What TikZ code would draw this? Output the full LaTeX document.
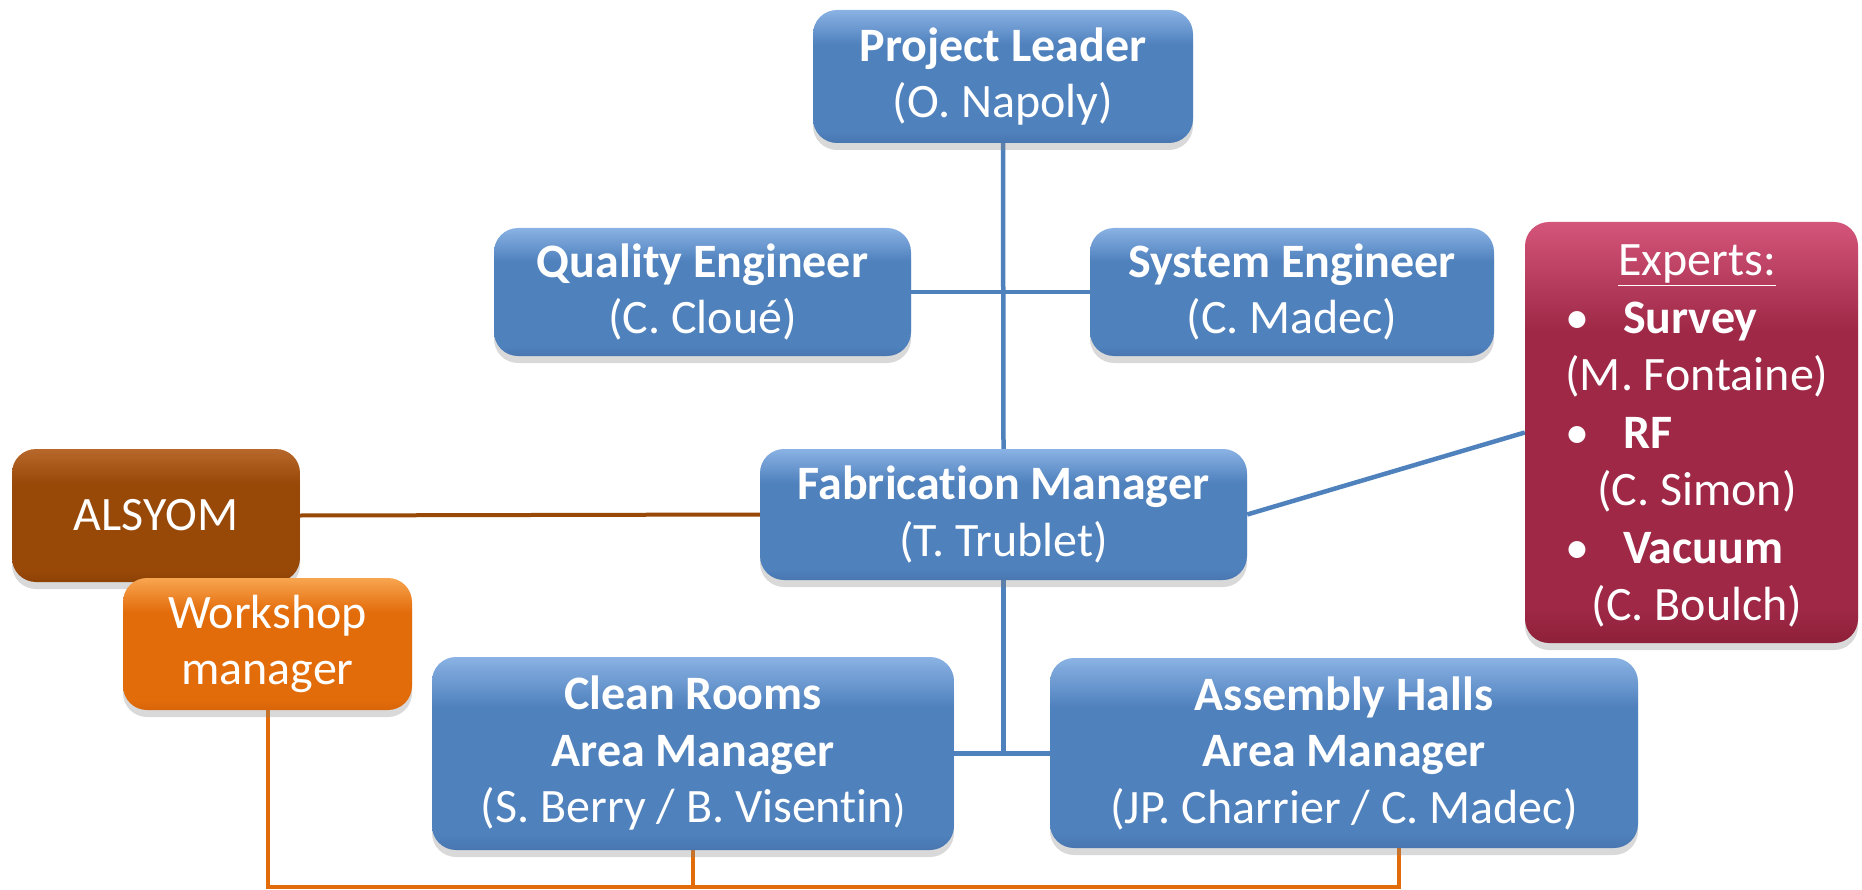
\documentclass[tikz,border=0pt]{standalone}
\usepackage{fontspec}
\setmainfont[Ligatures=NoCommon]{Carlito}
\usetikzlibrary{shadows,backgrounds,calc}

% box colours: base, light top edge, darker bottom edge
\definecolor{bBase}{HTML}{4F81BD}
\definecolor{bTop}{HTML}{8AB2E4}
\definecolor{bBot}{HTML}{4876AF}
\definecolor{aBase}{HTML}{984807}
\definecolor{aTop}{HTML}{B8682A}
\definecolor{aBot}{HTML}{8C4206}
\definecolor{wBase}{HTML}{E36C0A}
\definecolor{wTop}{HTML}{F8A550}
\definecolor{wBot}{HTML}{D8650A}
\definecolor{eBase}{HTML}{9E2846}
\definecolor{eTop}{HTML}{D4557A}
\definecolor{eBot}{HTML}{8E2039}
% connector colours
\definecolor{lBlue}{HTML}{4F81BD}
\definecolor{lBrown}{HTML}{984807}
\definecolor{lOrange}{HTML}{E36C0A}

% glossy vertical shadings (path box spans 25bp..75bp)
\pgfdeclareverticalshading{blueshade}{100bp}{color(0bp)=(bBot); color(25bp)=(bBot); color(29bp)=(bBase); color(62bp)=(bBase); color(75bp)=(bTop); color(100bp)=(bTop)}
\pgfdeclareverticalshading{brownshade}{100bp}{color(0bp)=(aBot); color(25bp)=(aBot); color(29bp)=(aBase); color(62bp)=(aBase); color(75bp)=(aTop); color(100bp)=(aTop)}
\pgfdeclareverticalshading{orangeshade}{100bp}{color(0bp)=(wBot); color(25bp)=(wBot); color(29bp)=(wBase); color(62bp)=(wBase); color(75bp)=(wTop); color(100bp)=(wTop)}
\pgfdeclareverticalshading{redshade}{100bp}{color(0bp)=(eBot); color(25bp)=(eBot); color(29bp)=(eBase); color(62bp)=(eBase); color(75bp)=(eTop); color(100bp)=(eTop)}

\tikzset{
  box/.style={rounded corners=24pt, draw=none, text=white, align=center,
    inner sep=0pt, font=\fontsize{48}{56.5}\selectfont,
    drop shadow={shadow xshift=0pt, shadow yshift=-7pt, opacity=0.3}},
  bluebox/.style={box, shading=blueshade},
  brownbox/.style={box, shading=brownshade},
  orangebox/.style={box, shading=orangeshade},
  redbox/.style={box, shading=redshade},
  plain/.style={text=white, align=center, inner sep=0pt,
    font=\fontsize{48}{57.5}\selectfont},
  blueline/.style={draw=lBlue, line width=4.5pt},
  brownline/.style={draw=lBrown, line width=4pt},
  orangeline/.style={draw=lOrange, line width=4pt},
}

\begin{document}
\begin{tikzpicture}[x=1pt,y=-1pt]
  \useasboundingbox (0,0) rectangle (1862,890);

  % management chain
  \node[bluebox, minimum width=380pt, minimum height=133pt] (pl) at (1003,76.5)
    {\textbf{Project Leader}\\(O. Napoly)};
  \node[bluebox, minimum width=417pt, minimum height=128pt] (qe) at (702.5,292)
    {\textbf{Quality Engineer}\\(C. Clou\'e)};
  \node[bluebox, minimum width=404pt, minimum height=128pt] (se) at (1292,292)
    {\textbf{System Engineer}\\(C. Madec)};
  \node[bluebox, minimum width=487pt, minimum height=131pt] (fm) at (1003.5,514.5)
    {\textbf{Fabrication Manager}\\(T. Trublet)};
  \node[bluebox, minimum width=522pt, minimum height=193pt] (cr) at (693,753.5)
    {\textbf{Clean Rooms}\\\textbf{Area Manager}\\(S. Berry / B. Visentin{\fontsize{40}{40}\selectfont)}};
  \node[bluebox, minimum width=588pt, minimum height=190pt] (ah) at (1344,753)
    {\textbf{Assembly Halls}\\\textbf{Area Manager}\\(JP. Charrier / C. Madec)};

  % industrial side
  \node[brownbox, minimum width=288pt, minimum height=133pt] (al) at (156,515.5) {ALSYOM};
  \node[orangebox, minimum width=289pt, minimum height=132pt] (ws) at (267.5,644)
    {Workshop\\manager};

  % experts
  \node[redbox, minimum width=333pt, minimum height=421pt] (ex) at (1691.5,432.5) {};
  \node[plain] (exlist) at (1697,436) {%
    \underline{Experts:}\\
    \makebox[264pt][l]{\makebox[58pt][l]{•}\textbf{Survey}}\\
    (M. Fontaine)\\
    \makebox[264pt][l]{\makebox[58pt][l]{•}\textbf{RF}}\\
    (C. Simon)\\
    \makebox[264pt][l]{\makebox[58pt][l]{•}\textbf{Vacuum}}\\
    (C. Boulch)};

  \coordinate (bottom) at (268,887);
  \coordinate (ahdrop) at (1399,846);

  \begin{scope}[on background layer]
    \draw[blueline] (pl.south) -- (fm.north);
    \draw[blueline] (qe.east) -- (se.west);
    \draw[blueline] (fm.east) -- (ex.west);
    \draw[blueline] (fm.south) -- (fm.south |- cr.east);
    \draw[blueline] (cr.east) -- (cr.east -| ah.west);
    \draw[brownline] (al.east) -- (fm.west);
    \draw[orangeline] (ws.south) |- (ahdrop |- bottom) -- (ahdrop);
    \draw[orangeline] (cr.south) -- (cr.south |- bottom);
  \end{scope}
\end{tikzpicture}
\end{document}
